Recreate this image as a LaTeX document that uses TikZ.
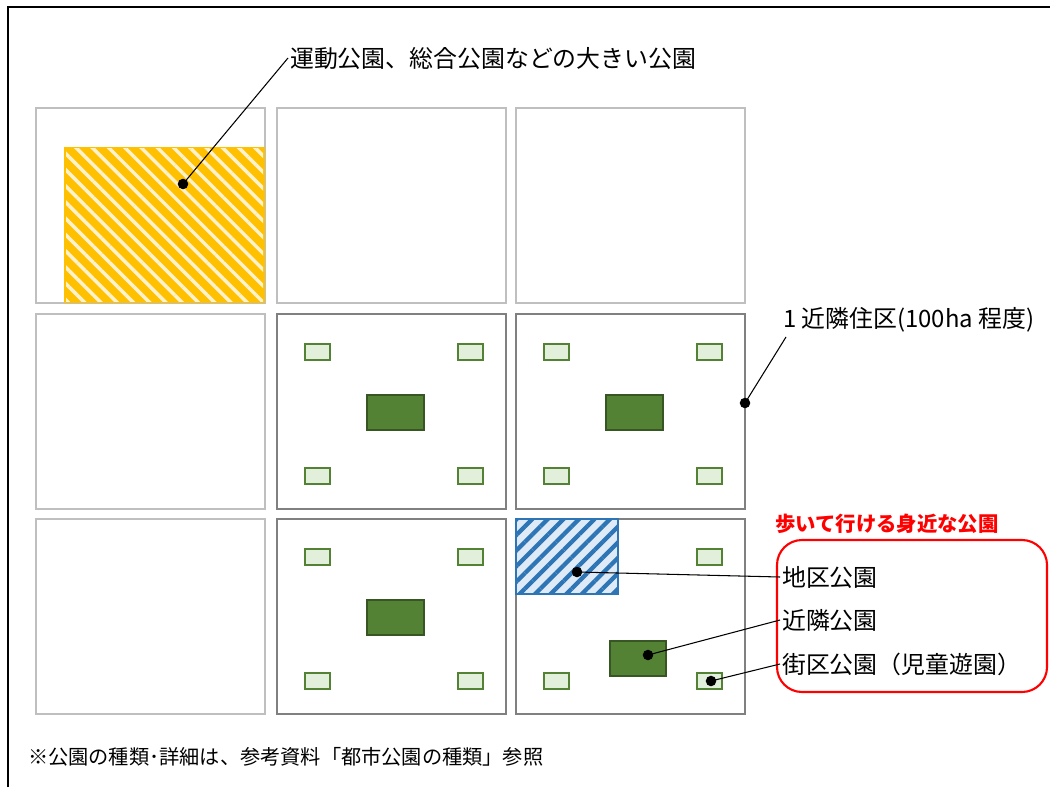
\documentclass[tikz,border=0pt]{standalone}
\usepackage{fontspec}
\setmainfont{Noto Sans CJK JP}
\usetikzlibrary{positioning}
\usetikzlibrary{patterns.meta}

\definecolor{cellLight}{HTML}{BFBFBF}
\definecolor{cellDark}{HTML}{808080}
\definecolor{parkGreen}{HTML}{548235}
\definecolor{parkDark}{HTML}{375623}
\definecolor{parkPale}{HTML}{E2EFDA}
\definecolor{sportOrange}{HTML}{FFC000}
\definecolor{sportCream}{HTML}{FFF2CC}
\definecolor{areaBlue}{HTML}{2E75B6}
\definecolor{areaPale}{HTML}{DEEBF7}
\definecolor{walkRed}{HTML}{FF0000}

\tikzset{
  cellA/.style={draw=cellLight,line width=1.5pt},
  cellB/.style={draw=cellDark,line width=1.5pt},
  smallpark/.style={draw=parkGreen,fill=parkPale,line width=1.1pt},
  bigpark/.style={draw=parkDark,fill=parkGreen,line width=1.4pt},
  pin/.style={circle,fill=black,inner sep=0pt,minimum size=6pt},
  lbl/.style={font=\fontsize{13.6}{16}\selectfont,inner sep=1pt,anchor=west},
}

\begin{document}
\begin{tikzpicture}[x=0.02cm,y=-0.02cm]
 \useasboundingbox (0,0) rectangle (1050,787);
 \draw[line width=1.2pt] (8,787)--(8,7)--(1050,7);
 % blocks
 \foreach \cx in {36,277,516}
  \foreach \cy in {108,314,519}
   \draw[cellA] (\cx,\cy) rectangle (\cx+229,\cy+195);
 \foreach \cx in {277,516}
  \foreach \cy in {314,519}
   \draw[cellB] (\cx,\cy) rectangle (\cx+229,\cy+195);
 % parks in the blocks
 \foreach \cx/\cy in {277/314,516/314,277/519}{
  \draw[smallpark] (\cx+28,\cy+30) rectangle (\cx+53,\cy+46);
  \draw[smallpark] (\cx+181,\cy+30) rectangle (\cx+206,\cy+46);
  \draw[smallpark] (\cx+28,\cy+154) rectangle (\cx+53,\cy+170);
  \draw[smallpark] (\cx+181,\cy+154) rectangle (\cx+206,\cy+170);
  \draw[bigpark] (\cx+90,\cy+81) rectangle (\cx+147,\cy+116);
 }
 \draw[smallpark] (697,549) rectangle (722,565);
 \draw[smallpark] (544,673) rectangle (569,689);
 \draw[smallpark] (697,673) rectangle (722,689);
 \draw[bigpark] (610,641) rectangle (666,676);
 % large park
 \fill[sportOrange] (64,147) rectangle (265,303);
 \fill[pattern={Lines[angle=-45,distance=2.3mm,line width=0.7mm]},pattern color=sportCream]
  (66,149) rectangle (263,301);
 % district park
 \fill[areaPale] (516,519) rectangle (618,594);
 \fill[pattern={Lines[angle=45,distance=2.2mm,line width=0.85mm]},pattern color=areaBlue]
  (516,519) rectangle (618,594);
 \draw[areaBlue,line width=1.6pt] (516,519) rectangle (618,594);

 % labels
 \node[lbl] (big) at (288,58) {運動公園、総合公園などの大きい公園};
 \node[lbl] (unit) at (781,320) {1 近隣住区(100ha 程度)};
 \node[lbl,font=\fontsize{11.6}{14}\selectfont\bfseries,text=walkRed] (walk) at (773,524) {歩いて行ける身近な公園};
 \draw[walkRed,line width=1.2pt,rounded corners=0.5cm] (777,540) rectangle (1047,692);
 \node[lbl] (district) at (780,577) {地区公園};
 \node[lbl] (nbr) at (780,620) {近隣公園};
 \node[lbl] (block) at (780,664) {街区公園（児童遊園）};
 \node[lbl,font=\fontsize{11.5}{14}\selectfont] (note) at (26,757) {※公園の種類･詳細は、参考資料「都市公園の種類」参照};

 % pins and leaders
 \node[pin] (pBig) at (183,184) {};
 \node[pin] (pUnit) at (745,403) {};
 \node[pin] (pDistrict) at (577,572) {};
 \node[pin] (pNbr) at (648,655) {};
 \node[pin] (pBlock) at (711,681) {};
 \coordinate (cUnit) at (786,337);
 \draw[semithick] (pBig.center) -- (big.west);
 \draw[semithick] (pUnit.center) -- (cUnit);
 \draw[semithick] (pDistrict.center) -- (district.west);
 \draw[semithick] (pNbr.center) -- (nbr.west);
 \draw[semithick] (pBlock.center) -- (block.west);
\end{tikzpicture}
\end{document}
